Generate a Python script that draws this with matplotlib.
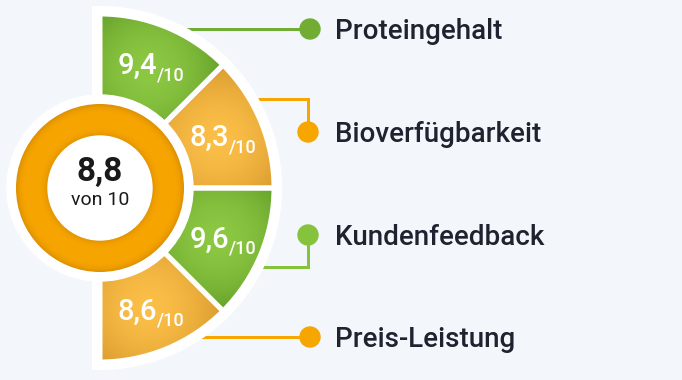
import numpy as np
import matplotlib
matplotlib.use("Agg")
import matplotlib.pyplot as plt
from matplotlib.patches import Wedge, Circle
from matplotlib.colors import to_rgb

# ---- data ----
categories = ["Proteingehalt", "Bioverfügbarkeit", "Kundenfeedback", "Preis-Leistung"]
scores = [9.4, 8.3, 9.6, 8.6]
score_max = 10
overall = 8.8
overall_label = "von 10"

# ---- styles ----
BG = "#f3f6fa"
TXT = "#20222f"
light_cols = ["#8dc843", "#fbbe47", "#8dc843", "#fbbe47"]
dark_cols = ["#4f8b1c", "#c68821", "#4f8b1c", "#c68821"]
line_cols = ["#72ad33", "#f7a600", "#86c33c", "#f7a600"]

W, H = 682, 380
fig = plt.figure(figsize=(W / 100, H / 100), dpi=100)
fig.patch.set_facecolor(BG)
ax = fig.add_axes([0, 0, 1, 1])
ax.set_xlim(0, W)
ax.set_ylim(0, H)
ax.set_aspect("equal")
ax.axis("off")
ax.set_facecolor(BG)

def Y(py):  # pixel y (top-down) -> data y
    return H - py

cx, cy = 100, Y(188)
R = 174
PX = 72 / 100  # points per pixel

def fmt(v):
    return f"{v:.1f}".replace(".", ",")

# white backing half disc with border
back = Wedge((cx, cy), R, -90, 90, facecolor="white", edgecolor="white",
             lw=16 * PX, joinstyle="miter", zorder=2)
ax.add_patch(back)

# connector lines and dots (pixel coords)
conn = [
    [(cx + 60, 29), (310, 29)],
    [(cx + 100, 99), (308, 99), (308, 132)],
    [(cx + 100, 267), (308, 267), (308, 235)],
    [(cx + 60, 337), (310, 337)],
]
for i, pts in enumerate(conn):
    xs = [p[0] for p in pts]
    ys = [Y(p[1]) for p in pts]
    ax.plot(xs, ys, color=line_cols[i], lw=3 * PX, solid_joinstyle="miter", zorder=1)
    ex, ey = pts[-1]
    ax.add_patch(Circle((ex, Y(ey)), 10, color=line_cols[i], zorder=3))
    ax.text(335, Y(ey + 10), categories[i], fontsize=20, family="Roboto",
            weight="medium", color=TXT, ha="left", va="baseline", zorder=4)

# gradient wedges
n = len(scores)
span = 180 / n
for i, s in enumerate(scores):
    t2 = 90 - i * span
    t1 = t2 - span
    w = Wedge((cx, cy), R, t1, t2, facecolor="none", edgecolor="none", zorder=3)
    ax.add_patch(w)
    mid = np.deg2rad((t1 + t2) / 2)
    gx, gy = cx + 128 * np.cos(mid), cy + 128 * np.sin(mid)
    x0, x1, y0, y1 = cx - 2, cx + R + 2, cy - R - 2, cy + R + 2
    xs = np.linspace(x0, x1, 260)
    ys = np.linspace(y0, y1, 500)
    X, Yg = np.meshgrid(xs, ys)
    d = np.hypot(X - gx, Yg - gy) / 95.0
    tt = np.clip(d, 0, 1) ** 1.8
    lc = np.array(to_rgb(light_cols[i]))
    dc = np.array(to_rgb(dark_cols[i]))
    img = lc[None, None, :] * (1 - tt[..., None]) + dc[None, None, :] * tt[..., None]
    im = ax.imshow(img, extent=[x0, x1, y0, y1], origin="lower", zorder=3,
                   interpolation="bilinear")
    im.set_clip_path(w)
    # white separators
    ax.add_patch(Wedge((cx, cy), R, t1, t2, facecolor="none", edgecolor="white",
                       lw=5 * PX, zorder=4))
    # value labels
    lx, ly = cx + 133 * np.cos(mid), cy + 133 * np.sin(mid)
    ax.text(lx + 6, ly - 9, fmt(s), fontsize=21, family="Roboto", weight="medium",
            color="white", ha="right", va="baseline", zorder=6)
    ax.text(lx + 6, ly - 15, f"/{score_max}", fontsize=13, family="Roboto",
            weight="medium", color="white", ha="left", va="baseline", zorder=6)

# central ring
ax.add_patch(Circle((cx, cy), 93, color="white", zorder=5))
ring = Wedge((cx, cy), 84, 0, 360, width=32, facecolor="none", edgecolor="none", zorder=6)
ax.add_patch(ring)
xs = np.linspace(cx - 86, cx + 86, 344)
ys = np.linspace(cy - 86, cy + 86, 344)
X, Yg = np.meshgrid(xs, ys)
rr = np.hypot(X - cx, Yg - cy)
t = np.clip(np.abs(rr - 68) / 16, 0, 1) ** 4
oc = np.array(to_rgb("#f7a500"))
odk = np.array(to_rgb("#dc9000"))
img = oc[None, None, :] * (1 - t[..., None]) + odk[None, None, :] * t[..., None]
im = ax.imshow(img, extent=[cx - 86, cx + 86, cy - 86, cy + 86], origin="lower",
               zorder=6, interpolation="bilinear")
im.set_clip_path(ring)
ax.add_patch(Circle((cx, cy), 52, color="white", zorder=7))

ax.text(cx, Y(181), fmt(overall), fontsize=24, family="Roboto", weight="bold",
        color="#1a1a1a", ha="center", va="baseline", zorder=8)
ax.text(cx, Y(205), overall_label, fontsize=14, family="Roboto", color="#1a1a1a",
        ha="center", va="baseline", zorder=8)

fig.savefig("out.png", dpi=100, facecolor=BG)
